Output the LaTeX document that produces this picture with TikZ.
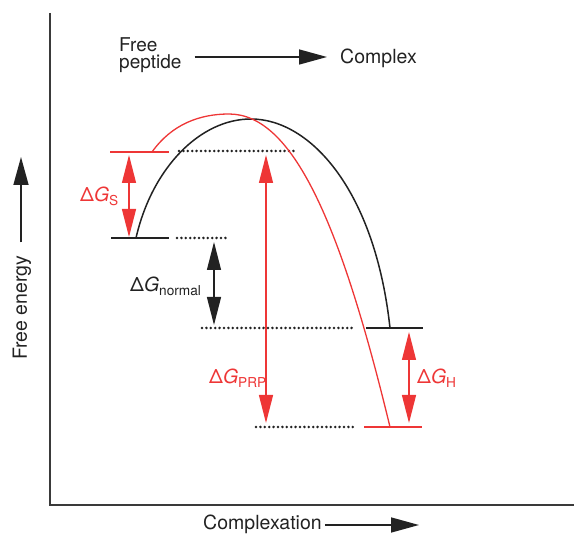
\documentclass[tikz,border=0pt]{standalone}
\usepackage{fontspec}
\setmainfont{TeX Gyre Heros}
\usetikzlibrary{arrows.meta, positioning}
\definecolor{PepRed}{HTML}{EE3636}
\definecolor{Ink}{HTML}{222222}
\definecolor{AxisGray}{HTML}{3A3A3A}

\begin{document}
\begin{tikzpicture}[x=1pt, y=-1pt,
  every node/.style={font=\fontsize{19.5}{16}\selectfont, inner sep=0pt, text=Ink},
  level/.style={line width=1.3pt},
  dotline/.style={line width=2.8pt, dash pattern=on 0pt off 4.4pt, line cap=round},
  dblarrow/.style={{Triangle[length=28pt,width=14pt]}-{Triangle[length=28pt,width=14pt]}, line width=1.3pt},
  onearrow/.style={-{Triangle[length=28pt,width=15pt]}, line width=1.5pt}]
  \useasboundingbox (0,0) rectangle (574,534);

  % Axes
  \draw[AxisGray, line width=1.4pt] (50,13) -- (50,505) -- (574,505);

  % Axis labels
  \node[anchor=base west, rotate=90] (freeenergy) at (27,360) {Free energy};
  \coordinate (feTip) at (21,157);
  \draw[onearrow, Ink, shorten <=13pt] (freeenergy.east -| feTip) -- (feTip);

  \node[anchor=base west] (complexation) at (203,530) {Complexation};
  \coordinate (cxTip) at (419,525);
  \draw[onearrow, Ink, shorten <=3pt] (complexation.east |- cxTip) -- (cxTip);

  % Reaction direction
  \node[anchor=north west, align=left, font=\fontsize{19}{17.5}\selectfont] (freepep) at (119,37) {Free\\peptide};
  \node[anchor=base west] (complex) at (340,64) {Complex};
  \coordinate (cpTip) at (327,57);
  \draw[onearrow, Ink, shorten <=13pt] (freepep.east |- cpTip) -- (cpTip);

  % Energy levels
  \draw[level, PepRed] (110,152) -- (169,152);
  \draw[dotline, Ink] (179,151) -- (295,151);
  \draw[level, Ink] (111,238) -- (169,238);
  \draw[dotline, Ink] (177,238) -- (229,238);
  \draw[dotline, Ink] (202,328) -- (352,328);
  \draw[level, Ink] (366,328) -- (423,328);
  \draw[dotline, Ink] (256,427) -- (356,427);
  \draw[level, PepRed] (364,427) -- (422,427);

  % Barriers
  \draw[Ink, line width=1.5pt] (136,238) .. controls (152,168) and (200,119) .. (251,119)
    .. controls (310,119) and (375,190) .. (390,328);
  \draw[PepRed, line width=1.3pt] (152,152) .. controls (172,124) and (200,114) .. (229,114)
    .. controls (292,114) and (340,220) .. (390,427);

  % Energy differences
  \coordinate (sTop) at (129,155);
  \coordinate (sBot) at (129,237);
  \draw[dblarrow, PepRed] (sTop) -- (sBot);
  \node[anchor=base west, text=PepRed] (dgs) at (80,202) {Δ\textit{G}\textsubscript{S}};

  \coordinate (nTop) at (214,242);
  \coordinate (nBot) at (214,325);
  \draw[dblarrow, Ink] (nTop) -- (nBot);
  \node[anchor=base west] (dgnormal) at (130,292) {Δ\textit{G}\textsubscript{normal}};

  \coordinate (pTop) at (266,155);
  \coordinate (pBot) at (266,423);
  \draw[dblarrow, PepRed] (pTop) -- (pBot);
  \node[anchor=base west, text=PepRed] (dgprp) at (209,384) {Δ\textit{G}\textsubscript{PRP}};

  \coordinate (hTop) at (409,332);
  \coordinate (hBot) at (409,423);
  \draw[dblarrow, PepRed] (hTop) -- (hBot);
  \node[anchor=base west, text=PepRed] (dgh) at (417,384) {Δ\textit{G}\textsubscript{H}};
\end{tikzpicture}
\end{document}
